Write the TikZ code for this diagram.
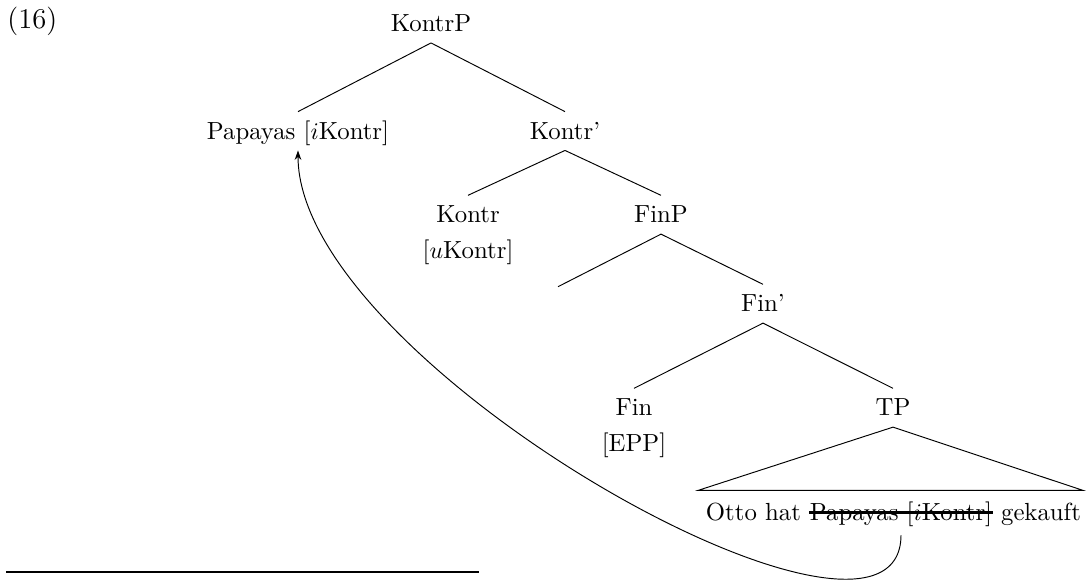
\documentclass[tikz,border=0pt]{standalone}
\usetikzlibrary{arrows.meta}
\tikzset{
  lbl/.style={anchor=base, inner sep=0pt, text height=11.3pt, text depth=4.6pt, font=\fontsize{10.4}{12.5}\selectfont},
  plain/.style={anchor=base, inner sep=0pt, font=\fontsize{10.4}{12.5}\selectfont},
  edge/.style={line width=0.4pt},
  move/.style={line width=0.4pt, -{Stealth[length=4pt,width=2.8pt]}},
}
\begin{document}
\begin{tikzpicture}[x=0.42pt, y=-0.42pt]
  \useasboundingbox (0,0) rectangle (1086,580);
  % example number
  \node[anchor=base west, inner sep=0pt, font=\fontsize{12}{14}\selectfont] (num) at (7,28) {(16)};
  % tree labels
  \node[lbl] (kontrp) at (431,31.5) {KontrP};
  \node[lbl] (pap) at (298,139) {Papayas [$i$Kontr]};
  \node[lbl] (kontrbar) at (565,139) {Kontr'};
  \node[lbl] (kontr) at (468,222.7) {Kontr};
  \node[plain] (kontrf) at (468,258) {[$u$Kontr]};
  \node[lbl] (finp) at (661,222.7) {FinP};
  \coordinate (spec) at (558,286.7);
  \node[lbl] (finbar) at (763,311.7) {Fin'};
  \node[lbl] (fin) at (634,415.7) {Fin};
  \node[plain] (finf) at (634,451) {[EPP]};
  \node[lbl] (tp) at (893,415.7) {TP};
  % terminal string
  \node[lbl] (strk) at (901,520) {Papayas [$i$Kontr]};
  \node[lbl, anchor=base east] (otto) at ([xshift=-3.4pt]strk.base west) {Otto hat};
  \node[lbl, anchor=base west] (gek) at ([xshift=3.4pt]strk.base east) {gekauft};
  \draw[line width=1.2pt] ([yshift=3.2pt]strk.base west) -- ([yshift=3.2pt]strk.base east);
  % edges
  \draw[edge] (kontrp.south) -- (pap.north);
  \draw[edge] (kontrp.south) -- (kontrbar.north);
  \draw[edge] (kontrbar.south) -- (kontr.north);
  \draw[edge] (kontrbar.south) -- (finp.north);
  \draw[edge] (finp.south) -- (spec);
  \draw[edge] (finp.south) -- (finbar.north);
  \draw[edge] (finbar.south) -- (fin.north);
  \draw[edge] (finbar.south) -- (tp.north);
  % triangle
  \coordinate (tl) at (698,490.4);
  \coordinate (tr) at (1083,490.4);
  \draw[edge] (tl) -- (tp.south) -- (tr) -- cycle;
  % movement arrow
  \draw[move] ([yshift=-1.5pt]strk.south) .. controls +(0,165) and +(0,215) .. (pap.south);
  % footnote rule
  \coordinate (fl) at (6,572);
  \coordinate (fr) at (479,572);
  \draw[line width=0.7pt] (fl) -- (fr);
\end{tikzpicture}
\end{document}
